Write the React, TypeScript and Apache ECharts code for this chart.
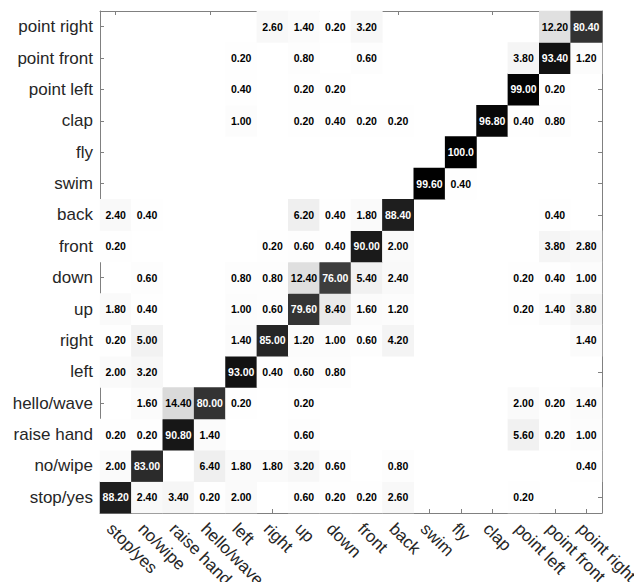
import React, { useEffect, useRef } from "react";
import * as echarts from "echarts";

const categories = [
  "stop/yes", "no/wipe", "raise hand", "hello/wave", "left", "right", "up", "down",
  "front", "back", "swim", "fly", "clap", "point left", "point front", "point right",
];

// Each row = true class; columns = predicted class (same order as categories)
const rowStopYes = [88.2, 2.4, 3.4, 0.2, 2.0, 0, 0.6, 0.2, 0.2, 2.6, 0, 0, 0, 0.2, 0, 0];
const rowNoWipe = [2.0, 83.0, 0, 6.4, 1.8, 1.8, 3.2, 0.6, 0, 0.8, 0, 0, 0, 0, 0, 0.4];
const rowRaiseHand = [0.2, 0.2, 90.8, 1.4, 0, 0, 0.6, 0, 0, 0, 0, 0, 0, 5.6, 0.2, 1.0];
const rowHelloWave = [0, 1.6, 14.4, 80.0, 0.2, 0, 0.2, 0, 0, 0, 0, 0, 0, 2.0, 0.2, 1.4];
const rowLeft = [2.0, 3.2, 0, 0, 93.0, 0.4, 0.6, 0.8, 0, 0, 0, 0, 0, 0, 0, 0];
const rowRight = [0.2, 5.0, 0, 0, 1.4, 85.0, 1.2, 1.0, 0.6, 4.2, 0, 0, 0, 0, 0, 1.4];
const rowUp = [1.8, 0.4, 0, 0, 1.0, 0.6, 79.6, 8.4, 1.6, 1.2, 0, 0, 0, 0.2, 1.4, 3.8];
const rowDown = [0, 0.6, 0, 0, 0.8, 0.8, 12.4, 76.0, 5.4, 2.4, 0, 0, 0, 0.2, 0.4, 1.0];
const rowFront = [0.2, 0, 0, 0, 0, 0.2, 0.6, 0.4, 90.0, 2.0, 0, 0, 0, 0, 3.8, 2.8];
const rowBack = [2.4, 0.4, 0, 0, 0, 0, 6.2, 0.4, 1.8, 88.4, 0, 0, 0, 0, 0.4, 0];
const rowSwim = [0, 0, 0, 0, 0, 0, 0, 0, 0, 0, 99.6, 0.4, 0, 0, 0, 0];
const rowFly = [0, 0, 0, 0, 0, 0, 0, 0, 0, 0, 0, 100.0, 0, 0, 0, 0];
const rowClap = [0, 0, 0, 0, 1.0, 0, 0.2, 0.4, 0.2, 0.2, 0, 0, 96.8, 0.4, 0.8, 0];
const rowPointLeft = [0, 0, 0, 0, 0.4, 0, 0.2, 0.2, 0, 0, 0, 0, 0, 99.0, 0.2, 0];
const rowPointFront = [0, 0, 0, 0, 0.2, 0, 0.8, 0, 0.6, 0, 0, 0, 0, 3.8, 93.4, 1.2];
const rowPointRight = [0, 0, 0, 0, 0, 2.6, 1.4, 0.2, 3.2, 0, 0, 0, 0, 0, 12.2, 80.4];

const matrix = [
  rowStopYes, rowNoWipe, rowRaiseHand, rowHelloWave, rowLeft, rowRight, rowUp, rowDown,
  rowFront, rowBack, rowSwim, rowFly, rowClap, rowPointLeft, rowPointFront, rowPointRight,
];

const FONT = "'Liberation Sans', Arial, sans-serif";

export default function App() {
  const ref = useRef<HTMLDivElement>(null);
  useEffect(() => {
    if (!ref.current) return;
    const chart = echarts.init(ref.current, undefined, { renderer: "svg" });
    const data: any[] = [];
    matrix.forEach((row, y) => {
      row.forEach((v, x) => {
        if (v > 0) {
          data.push({
            value: [x, y, v],
            label: { color: v > 50 ? "#ffffff" : "#000000" },
          });
        }
      });
    });
    const axisLine = { show: true, lineStyle: { color: "#808080", width: 1 } };
    const axisTick = { show: true, inside: true, length: 4, alignWithLabel: true, lineStyle: { color: "#808080" } };
    chart.setOption({
      animation: false,
      backgroundColor: "#ffffff",
      grid: {
        left: 100, top: 11, width: 502, height: 502,
        containLabel: false, outerBoundsMode: "none",
      },
      xAxis: [
        {
          type: "category",
          data: categories,
          position: "bottom",
          axisLine,
          axisTick,
          splitLine: { show: false },
          axisLabel: {
            rotate: -45,
            interval: 0,
            margin: 7,
            verticalAlign: "top",
            color: "#262626",
            fontSize: 17,
            fontFamily: FONT,
          },
        },
        {
          type: "category",
          data: categories,
          position: "top",
          axisLine,
          axisTick,
          axisLabel: { show: false },
          splitLine: { show: false },
        },
      ],
      yAxis: [
        {
          type: "category",
          data: categories,
          position: "left",
          axisLine,
          axisTick,
          splitLine: { show: false },
          axisLabel: {
            interval: 0,
            margin: 7,
            color: "#262626",
            fontSize: 17,
            fontFamily: FONT,
          },
        },
        {
          type: "category",
          data: categories,
          position: "right",
          axisLine,
          axisTick,
          axisLabel: { show: false },
          splitLine: { show: false },
        },
      ],
      visualMap: {
        type: "continuous",
        show: false,
        min: 0,
        max: 100,
        dimension: 2,
        inRange: { color: ["#ffffff", "#000000"] },
      },
      series: [
        {
          type: "heatmap",
          xAxisIndex: 0,
          yAxisIndex: 0,
          data,
          z: 1,
          label: {
            show: true,
            fontSize: 10.5,
            fontWeight: "bold",
            fontFamily: FONT,
            formatter: (p: any) => (p.value[2] as number).toFixed(2).slice(0, 5),
          },
          emphasis: { disabled: true },
        },
      ],
    });
    return () => chart.dispose();
  }, []);
  return (
    <div
      ref={ref}
      style={{ position: "fixed", left: 0, top: 0, width: 634, height: 582 }}
    />
  );
}
